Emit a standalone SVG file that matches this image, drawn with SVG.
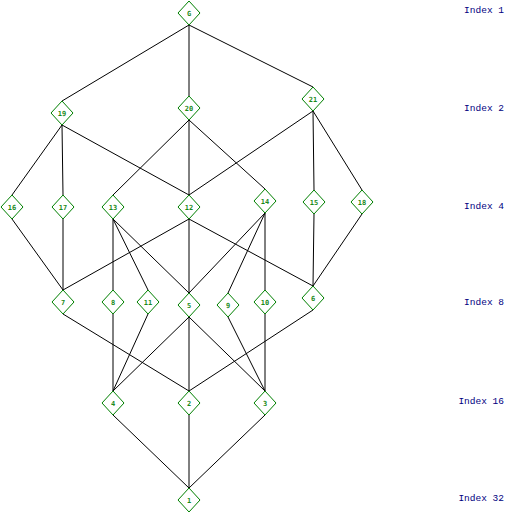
<svg xmlns="http://www.w3.org/2000/svg" width="505" height="515" viewBox="0 0 505 515">
<style>
.n polygon{fill:#fff;stroke:#008000;stroke-width:1}
.n text{font-family:"DejaVu Sans Mono","Liberation Mono",monospace;font-size:7px;font-weight:bold;fill:#1a8a1a;text-anchor:middle}
.e line{stroke:#000;stroke-width:1}
.idx{font-family:"Liberation Mono","DejaVu Sans Mono",monospace;font-size:9.5px;fill:#000080;text-anchor:end}
</style>
<rect width="505" height="515" fill="#fff"/>
<g id="connectors" class="e">
<line x1="189" y1="25" x2="62" y2="101"/>
<line x1="189" y1="25" x2="189" y2="96"/>
<line x1="189" y1="25" x2="313" y2="87"/>
<line x1="62" y1="125" x2="12" y2="195"/>
<line x1="62" y1="125" x2="63" y2="195"/>
<line x1="62" y1="125" x2="189" y2="195"/>
<line x1="189" y1="120" x2="113" y2="195"/>
<line x1="189" y1="120" x2="189" y2="195"/>
<line x1="189" y1="120" x2="265" y2="189"/>
<line x1="313" y1="111" x2="189" y2="195"/>
<line x1="313" y1="111" x2="314" y2="190"/>
<line x1="313" y1="111" x2="362" y2="190"/>
<line x1="12" y1="219" x2="63" y2="290"/>
<line x1="63" y1="219" x2="63" y2="290"/>
<line x1="113" y1="219" x2="113" y2="290"/>
<line x1="113" y1="219" x2="148" y2="290"/>
<line x1="113" y1="219" x2="189" y2="293"/>
<line x1="189" y1="219" x2="63" y2="290"/>
<line x1="189" y1="219" x2="189" y2="293"/>
<line x1="189" y1="219" x2="313" y2="286"/>
<line x1="265" y1="213" x2="189" y2="293"/>
<line x1="265" y1="213" x2="228" y2="293"/>
<line x1="265" y1="213" x2="265" y2="290"/>
<line x1="314" y1="214" x2="313" y2="286"/>
<line x1="362" y1="214" x2="313" y2="286"/>
<line x1="63" y1="314" x2="189" y2="391"/>
<line x1="113" y1="314" x2="113" y2="391"/>
<line x1="148" y1="314" x2="113" y2="391"/>
<line x1="189" y1="317" x2="113" y2="391"/>
<line x1="189" y1="317" x2="189" y2="391"/>
<line x1="189" y1="317" x2="265" y2="391"/>
<line x1="228" y1="317" x2="265" y2="391"/>
<line x1="265" y1="314" x2="265" y2="391"/>
<line x1="313" y1="310" x2="189" y2="391"/>
<line x1="113" y1="415" x2="189" y2="488"/>
<line x1="189" y1="415" x2="189" y2="488"/>
<line x1="265" y1="415" x2="189" y2="488"/>
</g>
<g id="nG" class="n" transform="translate(189,13)"><polygon points="0,-12 11,0 0,12 -11,0"/><text y="2.5">G</text></g>
<g id="n19" class="n" transform="translate(62,113)"><polygon points="0,-12 11,0 0,12 -11,0"/><text y="2.5">19</text></g>
<g id="n20" class="n" transform="translate(189,108)"><polygon points="0,-12 11,0 0,12 -11,0"/><text y="2.5">20</text></g>
<g id="n21" class="n" transform="translate(313,99)"><polygon points="0,-12 11,0 0,12 -11,0"/><text y="2.5">21</text></g>
<g id="n16" class="n" transform="translate(12,207)"><polygon points="0,-12 11,0 0,12 -11,0"/><text y="2.5">16</text></g>
<g id="n17" class="n" transform="translate(63,207)"><polygon points="0,-12 11,0 0,12 -11,0"/><text y="2.5">17</text></g>
<g id="n13" class="n" transform="translate(113,207)"><polygon points="0,-12 11,0 0,12 -11,0"/><text y="2.5">13</text></g>
<g id="n12" class="n" transform="translate(189,207)"><polygon points="0,-12 11,0 0,12 -11,0"/><text y="2.5">12</text></g>
<g id="n14" class="n" transform="translate(265,201)"><polygon points="0,-12 11,0 0,12 -11,0"/><text y="2.5">14</text></g>
<g id="n15" class="n" transform="translate(314,202)"><polygon points="0,-12 11,0 0,12 -11,0"/><text y="2.5">15</text></g>
<g id="n18" class="n" transform="translate(362,202)"><polygon points="0,-12 11,0 0,12 -11,0"/><text y="2.5">18</text></g>
<g id="n7" class="n" transform="translate(63,302)"><polygon points="0,-12 11,0 0,12 -11,0"/><text y="2.5">7</text></g>
<g id="n8" class="n" transform="translate(113,302)"><polygon points="0,-12 11,0 0,12 -11,0"/><text y="2.5">8</text></g>
<g id="n11" class="n" transform="translate(148,302)"><polygon points="0,-12 11,0 0,12 -11,0"/><text y="2.5">11</text></g>
<g id="n5" class="n" transform="translate(189,305)"><polygon points="0,-12 11,0 0,12 -11,0"/><text y="2.5">5</text></g>
<g id="n9" class="n" transform="translate(228,305)"><polygon points="0,-12 11,0 0,12 -11,0"/><text y="2.5">9</text></g>
<g id="n10" class="n" transform="translate(265,302)"><polygon points="0,-12 11,0 0,12 -11,0"/><text y="2.5">10</text></g>
<g id="n6" class="n" transform="translate(313,298)"><polygon points="0,-12 11,0 0,12 -11,0"/><text y="2.5">6</text></g>
<g id="n4" class="n" transform="translate(113,403)"><polygon points="0,-12 11,0 0,12 -11,0"/><text y="2.5">4</text></g>
<g id="n2" class="n" transform="translate(189,403)"><polygon points="0,-12 11,0 0,12 -11,0"/><text y="2.5">2</text></g>
<g id="n3" class="n" transform="translate(265,403)"><polygon points="0,-12 11,0 0,12 -11,0"/><text y="2.5">3</text></g>
<g id="n1" class="n" transform="translate(189,500)"><polygon points="0,-12 11,0 0,12 -11,0"/><text y="2.5">1</text></g>
<g id="levels">
<text class="idx" x="504" y="13">Index 1</text>
<text class="idx" x="504" y="111">Index 2</text>
<text class="idx" x="504" y="209">Index 4</text>
<text class="idx" x="504" y="305">Index 8</text>
<text class="idx" x="504" y="404">Index 16</text>
<text class="idx" x="504" y="501">Index 32</text>
</g>
</svg>
